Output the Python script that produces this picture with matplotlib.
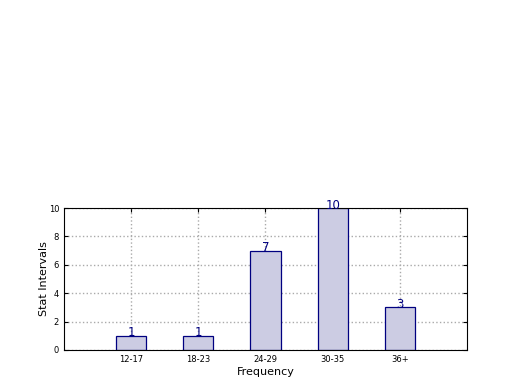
import matplotlib
matplotlib.use("Agg")
import matplotlib.pyplot as plt

categories = ["12-17", "18-23", "24-29", "30-35", "36+"]
values = [1, 1, 7, 10, 3]

fig = plt.figure(figsize=(5.2, 3.9), dpi=100)
ax = fig.add_axes([0.123, 0.1026, 0.775, 0.364])
pos = list(range(1, len(categories) + 1))
ax.bar(pos, values, width=0.45, color="#cccce3", edgecolor="#000080", linewidth=0.9, zorder=2)
for p, v in zip(pos, values):
    ax.text(p, v - 0.04, str(v), ha="center", va="baseline", color="#000080", fontsize=8.5, zorder=3)
ax.set_xlim(0, 6)
ax.set_ylim(0, 10)
ax.set_xticks(pos)
ax.set_xticklabels(categories, fontsize=6)
ax.set_yticks([0, 2, 4, 6, 8, 10])
ax.tick_params(axis="y", labelsize=6)
ax.tick_params(direction="in", length=3, top=True, right=True)
ax.grid(True, linestyle=":", color="#aaaaaa", linewidth=1, zorder=0)
ax.set_axisbelow(True)
ax.set_xlabel("Frequency", fontsize=8, labelpad=2)
ax.set_ylabel("Stat Intervals", fontsize=8, labelpad=0)
fig.savefig("out.png", dpi=100)
